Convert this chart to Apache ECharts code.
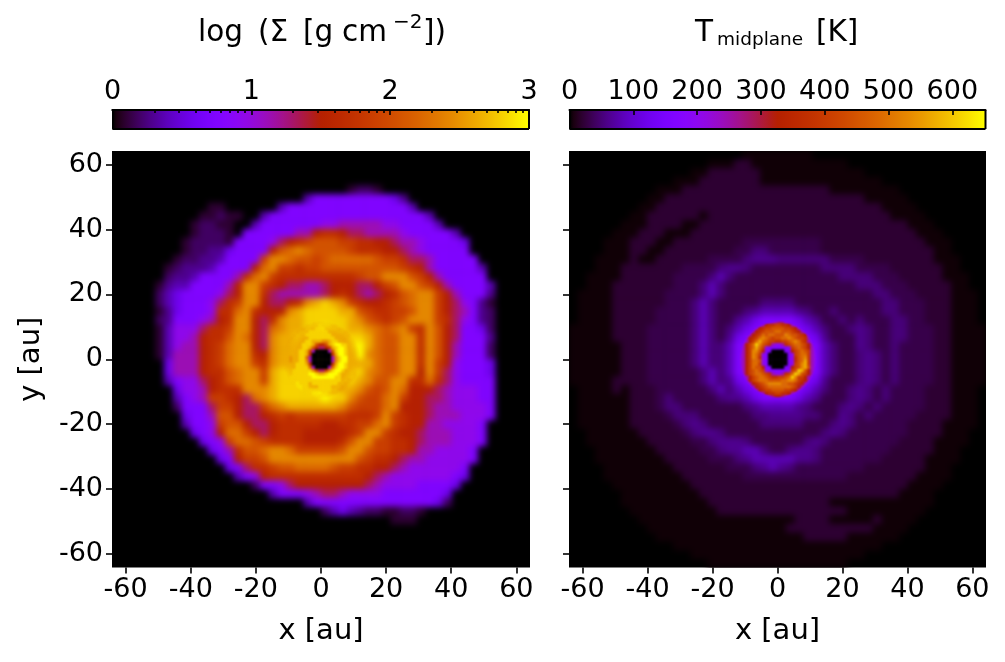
<!DOCTYPE html>
<html><head><meta charset="utf-8">
<style>html,body{margin:0;padding:0;background:#fff}#c{width:1005px;height:662px}
#c canvas[data-zr-dom-id="zr_1"]{filter:blur(3.2px);clip-path:path('M112 151H530V567.5H112Z')}
#c canvas[data-zr-dom-id="zr_3"]{filter:blur(3px);clip-path:path('M569 151H986V567.5H569Z')}
#c canvas[data-zr-dom-id="zr_2"]{filter:blur(1.2px);
 -webkit-mask-image:radial-gradient(circle 39px at 321.7px 359.6px,#000 70%,transparent 100%);
 mask-image:radial-gradient(circle 39px at 321.7px 359.6px,#000 70%,transparent 100%)}
#c canvas[data-zr-dom-id="zr_4"]{filter:blur(1.1px);
 -webkit-mask-image:radial-gradient(circle 39.5px at 778px 359.4px,#000 92%,transparent 100%);
 mask-image:radial-gradient(circle 39.5px at 778px 359.4px,#000 92%,transparent 100%)}
</style>
<script src="https://cdn.jsdelivr.net/npm/echarts@6/dist/echarts.min.js"></script>
</head><body><div id="c"></div>
<script>
// Cell levels. A row is a list of segments: "col:chars" or "from-to=char".
// Char = base-36 level out of 32 of the colour scale; "." "," ";" = the faint levels 0.13, 1.5 and 2.5.
const surfaceRows = [
"","","","",
"27:1221",
"22:488888888863",
"11:11 19:488888888888888 34:4",
"10:11211 17:4 18:888888888888888888 36:4",
"9:12211 16:4 17:8888888 24:aa 26:ccccc 31:aa 33:8888 37:4",
"9:12221 15:888888 21:cc 23:giig 27:eecccc 33:a 34:88888 39:4",
"8:122221 14:8888 18:ae 20:gi 22:kmmm 26:kk 28:iigg 32:ecca 36:8888 40:6",
"8:122336 14:8888 18:gm 20:oq 22:ommm 26:mk 28:iiigge 34:ca 36:88888",
"7:122334 13:8888 17:k 18:qqo 21:mmk 24:mooooo 30:mkki 34:eec 37:88888",
"6:123334 12:8888 16:go 18:q 19:kkik 23:kmmmmmmm 31:mmk 34:igc 37:88888 42:4",
"6:2334 10:8888 14:cioq 18:ki 20:iiiiiii 27:ikmm 31:qqq 34:mk 36:gc 38:88888",
"5:1344 9:8888 13:cg 15:qq 17:kig 20:eecce 25:ggg 28:eeg 31:kmo 33:qq 35:m 36:kg 38:c 39:8888 43:4",
"5:246 8:8888 12:aeg 15:qq 17:ie 19:ccc 22:cce 25:gig 28:ece 31:gim 34:oqq 37:kgc 40:888 43:3",
"5:246 8:888 11:aeik 15:qq 17:ge 19:eg 21:ik 22:qsus 26:qk 28:ig 30:gi 32:km 34:oqq 37:kge 40:a8 42:31",
"5:13 7:6888 11:aii 14:oq 16:ig 18:gg 20:qsuuuus 27:s 28:mk 30:ii 32:kk 34:mqq 37:kge 40:c8 42:32",
"5:23 7:888a 11:cgi 14:qq 16:gei 19:qss 22:uuuuu 27:sq 29:mkikm 34:qqq 37:kiea8 42:32",
"5:14 7:aaa 10:eiik 14:qq 16:ge 18:o 19:qss 22:uuwuus 28:sq 30:om 32:oqki 36:qmge 40:886 43:2",
"5:14 7:aac 10:giim 14:qo 16:ge 18:q 19:ssu 22:uuussuus 30:om 32:mqqi 36:qmge 40:888 43:3",
"5:14 7:acc 10:gik 13:o 14:qq 16:ge 18:q 19:ssu 22:uuoiouw 29:som 32:mqqi 36:qmgc 40:888 43:2",
"5:14 7:ccc 10:gik 13:o 14:qq 16:ig 18:q 19:ssu 22:wussssw 29:qom 32:mqqi 36:qmgc 40:888 43:2",
"6:6 7:ccc 10:gik 13:o 14:qq 16:ki 18:q 19:sssssssssss 30:om 32:mqqi 36:qkga 40:888 43:6",
"6:6 7:ccc 10:gii 13:moq 16:qk 18:s 19:uuuuuuuuuuq 30:om 32:mqqg 36:qke 39:a888 43:6",
"6:4 7:8aa 10:egi 13:mo 15:qqk 18:suuuuuuuuus 29:qm 31:m 32:qqi 35:i 36:oie 39:a8888",
"7:6aa 10:cgii 14:iqq 17:qs 19:uuuuuuuss 28:qm 30:k 31:mqo 34:ggge 38:c 39:aaa88",
"7:48a 10:ckki 14:ge 16:oqs 19:uuuuuwuuq 28:m 29:kk 31:oqk 34:gge 37:e 38:caaa88",
"7:2888 11:ekk 14:gee 17:ko 19:qssssssq 27:m 28:kk 30:koq 33:gg 35:g 36:ec 38:caaaa8",
"8:688 11:cmm 14:gee 17:gik 20:ik 22:kkkkk 27:iii 30:kqk 33:ig 35:g 36:ec 38:ccaaa8",
"8:488 11:akmm 15:ge 17:e 18:giii 22:iiggiik 29:koqk 33:ig 35:gc 37:caaaa8",
"9:68a 12:goo 15:kge 18:gii 21:iggggg 27:i 28:kqqk 32:ig 34:ge 36:cccaaa8",
"10:68a 13:koo 16:mk 18:iiii 22:ggggi 27:mqq 30:kk 32:iig 35:e 36:cccaaa8",
"11:68c 14:imm 17:oqq 20:ok 22:kkk 25:km 27:qqm 30:kk 32:ii 34:g 35:ccaaaa8",
"12:68g 15:kkm 18:qqqq 22:qqqqq 27:qm 29:k 30:iig 33:e 34:ccaaaaa8",
"13:68e 16:iik 19:mmoooo 25:mkk 28:iig 31:ge 33:caaaaaa8",
"14:48a 17:g 18:iiiii 23:iiiiii 29:ge 31:caaaaaaa86",
"16:288a 20:eggggggg 28:ge 30:caaaa88886",
"18:4888a 23:ceec 27:aaaa88888886",
"22:488888888888888 37:62",
"24:24643 29:221 32:1221",
"32:111",
"","","","",""
];
const surfaceCoreRows = [
"9:qsssss",
"7:qsssusssqq",
"5:qqsssuuussssqq",
"4:qsssuuuuuusssssq",
"3:qsssuuuuuuuusssssq",
"2:qsssssuuuuuuuussssss",
"1:qsssssuusssqqsuusssssss",
"1:sssssuuusmiimsuwwuusss",
"0:ssssssuusmgeegksuwwussss",
"0:sssssuuskc0000cmuwwussss",
"0:sssssuusi000000iswwussss",
"0:ssqssuuoc000000cquwwssss",
"0:ssqssuuqc000000cquwwssss",
"0:ssssuuusi000000iswwussss",
"0:ssssuuuuoc0000couwwussss",
"0:sssuuuuuuqkeekquwwussss",
"1:ssuuuuuwwussuwwwussssq",
"1:suuuuuuuwwwwwwwuussssq",
"2:uuuuuuuuuuuuuuuussqq",
"3:uwuuusuuuuuuuussqq",
"4:wwuusssuuuusssqq",
"5:wuuuuuuuuussqq",
"7:uuwwwuusqq",
"9:wwuuss"
];
const tempRows = [
"20-27=.",
"16-31=. 19-20=1",
"14-33=. 16-21=1",
"12-35=. 15-21=1",
"10-37=. 13-29=1",
"9-38=. 11-33=1",
"8-39=. 10-35=1",
"7-40=. 9-36=1 15-15=.",
"6-41=. 9-38=1 13-14=.",
"5-42=. 8-39=1 11-13=.",
"4-43=. 7-40=1 10-11=. 20-28=,",
"4-43=. 7-41=1 9-10=. 19-28=, 21:;;",
"3-44=. 7-41=1 8-9=. 16-33=, 20:;3 22:33 24:;; 26:;;; 29:;,,",
"3-44=. 6-42=1 13-36=, 17:;3 19:3; 29:;;; 32:;",
"2-45=. 6-42=1 12-37=, 16:;4; 31:;;;;",
"2-45=. 5-43=1 12-38=, 15:;4; 33:;;;",
"1-46=. 5-43=1 11-39=, 15:;4; 35:;;",
"1-46=. 5-43=1 11-40=, 14:;4; 22:;;;; 36:;;",
"1-46=. 5-43=1 10-40=, 14:;4; 20:;344443; 30:; 36:;;",
"1-46=. 5-43=1 10-40=, 14:;4; 19:3468888643 31:; 33:; 37:;;",
"0-47=. 5-43=1 9-41=, 14:;4; 18:;46888888 27:64; 32:;3 34:; 37:;;",
"0-47=. 5-43=1 9-41=, 14:;4; 18:36 20:88888888 28:63 33:3; 37:;;",
"0-47=. 6-43=1 9-41=, 14:;4; 17:;4 19:8888888888 29:4; 33:3; 37:;",
"0-47=. 6-43=1 9-41=, 14:;4; 17:;4 19:8888888888 29:4; 33:;3; 37:;",
"0-47=. 6-43=1 9-41=, 14:;4; 17:;4 19:8888888888 29:4; 33:;3; 37:;",
"0-47=. 6-43=1 9-41=, 15:;4 17:;4 19:8888888888 29:4; 33:;3; 37:;",
"0-47=. 5-43=1 9-41=, 15:;4; 18:36 20:88888888 28:63 33:;3; 37:;",
"1-46=. 5-43=1 6-6=. 10-40=, 16:; 17:4 18:;46888888 27:64; 32:;3; 36:;",
"1-46=. 6-43=1 6-6=. 10-40=, 11:; 17:;3 19:3468888643 32:;3; 36:;",
"1-46=. 7-43=1 10-40=, 11:;; 20:;344443; 31:;3; 35:;",
"1-46=. 7-43=1 11-39=, 12:;;; 21:;;3333;; 31:3; 34:;",
"1-46=. 7-42=1 12-38=, 13:;3; 22:;;;;; 30:;3; 33:,",
"2-45=. 8-42=1 13-38=, 14:;33; 29:;3; 32:,",
"2-45=. 9-41=1 14-37=, 16:;333; 27:;3; 31:,",
"3-44=. 10-41=1 15-36=, 17:;3344; 25:;33;",
"3-44=. 11-40=1 16-35=, 19:;3444443 27:3;",
"4-43=. 12-40=1 18-33=, 21:;343;",
"4-43=. 13-39=1 20-31=,",
"5-42=. 14-38=1",
"6-41=. 15-37=1",
"6-41=. 16-36=1 30-36=.",
"7-40=. 17-36=1 32-36=.",
"8-39=. 18-35=1 18-25=. 30-34=.",
"9-38=. 25-34=1 22-24=.",
"10-37=. 27-31=1",
"12-35=.",
"14-33=.",
"16-31=."
];
const tempCoreRows = [
"4-19=8 9:8aceea8",
"3-20=8 6:ac 8:giikkiig 16:ca",
"2-21=8 4:ac 6:gikkmmmmkkig 18:ca",
"1-22=8 3:ac 5:gikmmmoommmkig 19:ca",
"0-23=8 2:ac 4:gikomoommmqommki 20:gca",
"0-23=8 1:ac 3:gikoqomkmmooqomkki 21:ca",
"0-23=8 1:ac 3:gkosomkkiikkmoqoki 21:ca",
"0:ac 2:gkouqmkicaacikmoomkg 22:ca",
"0:acgkosoka888888akmomkgca",
"0:acgkqqmg88000088gkmomkca",
"0:acgkqoka80000008akmookca",
"0:acgkqoia80000008aimoqkca",
"0:acgkooma80000008aimoskca",
"0:acgkooka80000008akmqskca",
"0:acgkommg88000088gkmqsmca",
"0:acgkmomka888888akmusmgca",
"0:ac 2:gkmoomkicaacikousmkg 22:ca",
"0-23=8 1:ac 3:gkmoomkiikkmouqkkg 21:ca",
"0-23=8 1:ac 3:gkmooommmmooqqokig 21:ca",
"0-23=8 2:ac 4:gikmoqqqqoommkig 20:ca",
"1-22=8 3:ac 5:gikmooooooomkg 19:ca",
"2-21=8 4:ac 6:gikkmmmmkkig 18:ca",
"3-20=8 6:ac 8:giikkiig 16:ca",
"4-19=8 7:8ac 10:eggeca"
];
const axisTicks = [-60,-40,-20,0,20,40,60];
const surfaceTicks = [0,1,2,3];
const surfaceMinorTicks = [0.301,0.477,0.602,0.699,0.778,0.845,0.903,0.954,1.301,1.477,1.602,1.699,1.778,1.845,1.903,1.954,2.301,2.477,2.602,2.699,2.778,2.845,2.903,2.954];
const tempTicks = [0,100,200,300,400,500,600];
const surfaceMax = 3, tempMax = 652, extent = 64.2;

// matplotlib "gnuplot" colour scale
const palette = [];
for (let i=0;i<256;i++){const x=i/255;
  const h=v=>Math.round(Math.max(0,Math.min(1,v))*255).toString(16).padStart(2,'0');
  palette.push('#'+h(Math.sqrt(x))+h(x*x*x)+h(Math.sin(2*Math.PI*x)));}

const faint={'.':0.13,',':1.5,';':2.5};
function cells(rows,n,scale){
  const out=[];
  rows.forEach((row,r)=>{
    const line=new Array(n).fill(null);
    row.split(' ').filter(Boolean).forEach(seg=>{
      let m;
      if((m=seg.match(/^(\d+)-(\d+)=(.)$/))){for(let i=+m[1];i<=+m[2];i++)line[i]=m[3];}
      else if((m=seg.match(/^(\d+):(.+)$/))){[...m[2]].forEach((ch,k)=>{if(+m[1]+k<n)line[+m[1]+k]=ch;});}
    });
    line.forEach((ch,c)=>{
      if(ch===null)return;
      const lv=ch in faint?faint[ch]:parseInt(ch,36);
      out.push([c,r,lv/32*scale]);
    });
  });
  return out;
}
const idx=n=>Array.from({length:n},(_,i)=>i);
const FONT='"DejaVu Sans"';
const tickFS=27, nameFS=29;

const P={L:{x:112,w:418,cx:321.7},R:{x:569,w:417,cx:778},y:151,h:416.5,cy:359.5};
const coreW=24*418/(2*extent);
const grids=[
 {left:P.L.x,top:P.y,width:P.L.w,height:P.h,show:true,backgroundColor:'#000',borderWidth:0},
 {left:P.R.x,top:P.y,width:P.R.w,height:P.h,show:true,backgroundColor:'#000',borderWidth:0},
 {left:P.L.cx-coreW/2,top:P.cy-coreW/2,width:coreW,height:coreW},
 {left:P.R.cx-coreW/2,top:P.cy-coreW/2,width:coreW,height:coreW},
 {left:112.5,top:110,width:416.5,height:18.5},
 {left:569.5,top:110,width:416,height:18.5},
 {left:112.5,top:110,width:416.5,height:18.5}
];
function mainX(g,name){return {type:'value',gridIndex:g,min:-extent,max:extent,position:'bottom',z:6,
  name,nameLocation:'middle',nameGap:49,nameTextStyle:{fontFamily:FONT,fontSize:nameFS,color:'#000'},
  splitLine:{show:false},axisLine:{show:false,onZero:false},
  axisTick:{show:true,length:6,lineStyle:{color:'#000',width:1.6},customValues:axisTicks},
  axisLabel:{margin:9,fontFamily:FONT,fontSize:tickFS,color:'#000',customValues:axisTicks,showMinLabel:true,showMaxLabel:true}};}
function mainY(g,name,labels){return {type:'value',gridIndex:g,min:-extent,max:extent,position:'left',z:6,
  name,nameLocation:'middle',nameGap:66,nameTextStyle:{fontFamily:FONT,fontSize:nameFS,color:'#000'},
  splitLine:{show:false},axisLine:{show:false,onZero:false},
  axisTick:{show:true,length:6,lineStyle:{color:'#000',width:1.6},customValues:axisTicks},
  axisLabel:{show:labels,margin:9,fontFamily:FONT,fontSize:tickFS,color:'#000',customValues:axisTicks}};}
const catX=(g,n)=>({type:'category',gridIndex:g,data:idx(n),show:false,boundaryGap:true});
const catY=(g,n)=>({type:'category',gridIndex:g,data:idx(n),show:false,boundaryGap:true,inverse:true});
function barX(g,max,ticks,labels,len){return {type:'value',gridIndex:g,min:0,max,position:'top',z:6,
  splitLine:{show:false},
  axisLine:{show:true,onZero:false,lineStyle:{color:'#000',width:2}},
  axisTick:{show:true,inside:true,length:len,lineStyle:{color:'#000',width:1.6},customValues:ticks},
  axisLabel:{show:labels,margin:5,fontFamily:FONT,fontSize:tickFS,color:'#000',customValues:ticks}};}
const barFrameY=g=>({type:'value',gridIndex:g,min:0,max:1,z:6,splitLine:{show:false},axisTick:{show:false},axisLabel:{show:false},
  axisLine:{show:true,onZero:false,lineStyle:{color:'#000',width:2}}});

const xAxis=[mainX(0,'x [au]'),catX(0,48),mainX(1,'x [au]'),catX(1,48),catX(2,24),catX(3,24),
  barX(4,surfaceMax,surfaceTicks,true,5),barX(5,tempMax,tempTicks,true,5),
  barX(6,surfaceMax,surfaceMinorTicks,false,3)];
const yAxis=[mainY(0,'y [au]',true),catY(0,48),mainY(1,'',false),catY(1,48),catY(2,24),catY(3,24),
  barFrameY(4),barFrameY(5),
  {type:'value',gridIndex:6,min:0,max:1,show:false}];
const hm=(data,x,y,zlevel)=>({type:'heatmap',data,xAxisIndex:x,yAxisIndex:y,zlevel,progressive:0,animation:false,emphasis:{disabled:true},itemStyle:{borderWidth:0}});
const series=[
 hm(cells(surfaceRows,48,surfaceMax),1,1,1),
 hm(cells(tempRows,48,tempMax),3,3,3),
 hm(cells(surfaceCoreRows,24,surfaceMax),4,4,2),
 hm(cells(tempCoreRows,24,tempMax),5,5,4)
];
const tx=(text,x,y,size)=>({type:'text',x,y,z:10,style:{text,font:size+'px '+FONT,fill:'#000',align:'left',verticalAlign:'middle'}});
const graphic=[
 tx('log',198,33,29.5),tx('(Σ',258,33,29.5),tx('[g',303,33,29.5),tx('cm',342,33,29.5),tx('−2',393,23,20),tx('])',423,33,29.5),
 tx('T',695,33,29.5),tx('midplane',717,40,18.5),tx('[K]',816,33,29.5),
 {type:'rect',z:9,silent:true,shape:{x:112.5,y:129,width:416.5,height:0},style:{stroke:'#000',lineWidth:2,fill:null}},
 {type:'rect',z:9,silent:true,shape:{x:569.5,y:129,width:416,height:0},style:{stroke:'#000',lineWidth:2,fill:null}},
 {type:'rect',z:9,silent:true,shape:{x:529,y:110,width:0,height:19},style:{stroke:'#000',lineWidth:2,fill:null}},
 {type:'rect',z:9,silent:true,shape:{x:985.5,y:110,width:0,height:19},style:{stroke:'#000',lineWidth:2,fill:null}}
];
const chart=echarts.init(document.getElementById('c'),null,{renderer:'canvas'});
const bar={type:'continuous',show:true,orient:'horizontal',top:110,itemWidth:18.5,showLabel:false,calculable:false,realtime:false,hoverLink:false,padding:0,text:null,borderWidth:0,inRange:{color:palette}};
chart.setOption({animation:false,backgroundColor:'#fff',
 grid:grids,xAxis,yAxis,series,graphic,
 visualMap:[
  {...bar,left:112.5,itemHeight:416.5,min:0,max:surfaceMax,seriesIndex:[0,2]},
  {...bar,left:569.5,itemHeight:416,min:0,max:tempMax,seriesIndex:[1,3]}
 ]});
</script></body></html>
